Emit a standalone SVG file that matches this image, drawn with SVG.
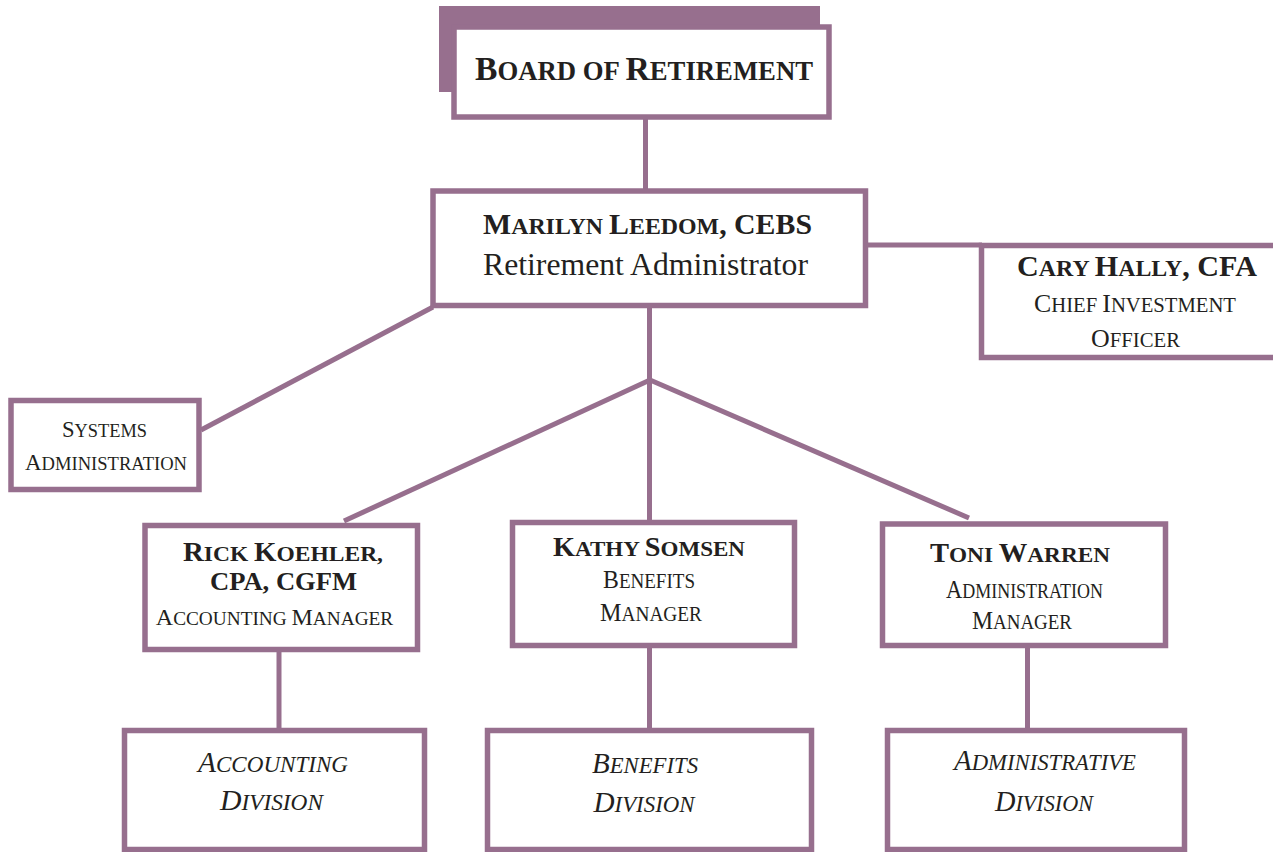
<svg xmlns="http://www.w3.org/2000/svg" width="1273" height="852" viewBox="0 0 1273 852">
<style>
.box{fill:#fff;stroke:#976f8e;stroke-width:5.5}
.ln{stroke:#976f8e;stroke-width:5;fill:none}
text{font-family:"Liberation Serif","Times New Roman",serif;fill:#231f20;text-anchor:middle}
.b{font-weight:bold}
.i{font-style:italic}
</style>
<rect width="1273" height="852" fill="#fff"/>
<g id="connectors">
<line class="ln" x1="645.5" y1="117" x2="645.5" y2="191"/>
<line class="ln" x1="865" y1="245" x2="982" y2="245"/>
<line class="ln" x1="433" y1="307" x2="201" y2="430"/>
<line class="ln" x1="649.5" y1="305" x2="649.5" y2="522"/>
<line class="ln" x1="650" y1="380" x2="344" y2="521"/>
<line class="ln" x1="650" y1="380" x2="969" y2="518"/>
<line class="ln" x1="279" y1="649" x2="279" y2="731"/>
<line class="ln" x1="649.5" y1="645" x2="649.5" y2="731"/>
<line class="ln" x1="1027.5" y1="645" x2="1027.5" y2="731"/>
</g>
<g id="board">
<rect x="439" y="6" width="381" height="86" fill="#976f8e"/>
<rect class="box" x="454" y="27" width="375" height="90"/>
<text class="b" x="644" y="80" textLength="338" lengthAdjust="spacingAndGlyphs" font-size="27"><tspan font-size="34">B</tspan>OARD OF <tspan font-size="34">R</tspan>ETIREMENT</text>
</g>
<g id="marilyn">
<rect class="box" x="433" y="191" width="432.5" height="114.5"/>
<text class="b" x="647.5" y="234" textLength="329" lengthAdjust="spacingAndGlyphs" font-size="24"><tspan font-size="30">M</tspan>ARILYN <tspan font-size="30">L</tspan>EEDOM<tspan font-size="30">, CEBS</tspan></text>
<text x="645.5" y="275" font-size="32" textLength="325" lengthAdjust="spacingAndGlyphs">Retirement Administrator</text>
</g>
<g id="cary">
<rect class="box" x="981.5" y="245.5" width="310" height="112"/>
<text class="b" x="1137" y="276" textLength="240" lengthAdjust="spacingAndGlyphs" font-size="23"><tspan font-size="29">C</tspan>ARY <tspan font-size="29">H</tspan>ALLY<tspan font-size="29">, CFA</tspan></text>
<text x="1135" y="312" textLength="202" lengthAdjust="spacingAndGlyphs" font-size="20"><tspan font-size="25">C</tspan>HIEF <tspan font-size="25">I</tspan>NVESTMENT</text>
<text x="1135.5" y="347" textLength="89" lengthAdjust="spacingAndGlyphs" font-size="20"><tspan font-size="25">O</tspan>FFICER</text>
</g>
<g id="systems">
<rect class="box" x="11" y="400.5" width="188" height="89"/>
<text x="104.5" y="437" textLength="85" lengthAdjust="spacingAndGlyphs" font-size="19.5"><tspan font-size="24">S</tspan>YSTEMS</text>
<text x="106" y="470" textLength="162" lengthAdjust="spacingAndGlyphs" font-size="19.5"><tspan font-size="24">A</tspan>DMINISTRATION</text>
</g>
<g id="rick">
<rect class="box" x="145" y="525.5" width="272.5" height="124"/>
<text class="b" x="283" y="561" textLength="200" lengthAdjust="spacingAndGlyphs" font-size="22"><tspan font-size="27">R</tspan>ICK <tspan font-size="27">K</tspan>OEHLER,</text>
<text class="b" x="283.5" y="590" textLength="147" lengthAdjust="spacingAndGlyphs" font-size="26">CPA, CGFM</text>
<text x="274.5" y="625" font-size="19.3"><tspan font-size="24">A</tspan>CCOUNTING <tspan font-size="24">M</tspan>ANAGER</text>
</g>
<g id="kathy">
<rect class="box" x="512.5" y="522.5" width="282" height="123"/>
<text class="b" x="649" y="556" textLength="192" lengthAdjust="spacingAndGlyphs" font-size="22"><tspan font-size="27">K</tspan>ATHY <tspan font-size="27">S</tspan>OMSEN</text>
<text x="649" y="588" textLength="92" lengthAdjust="spacingAndGlyphs" font-size="20"><tspan font-size="25">B</tspan>ENEFITS</text>
<text x="651" y="621" textLength="102" lengthAdjust="spacingAndGlyphs" font-size="20"><tspan font-size="25">M</tspan>ANAGER</text>
</g>
<g id="toni">
<rect class="box" x="882.5" y="524" width="283" height="121.5"/>
<text class="b" x="1020" y="562" textLength="180" lengthAdjust="spacingAndGlyphs" font-size="22"><tspan font-size="27">T</tspan>ONI <tspan font-size="27">W</tspan>ARREN</text>
<text x="1024.5" y="598" textLength="157" lengthAdjust="spacingAndGlyphs" font-size="20"><tspan font-size="25">A</tspan>DMINISTRATION</text>
<text x="1022" y="629" textLength="100" lengthAdjust="spacingAndGlyphs" font-size="20"><tspan font-size="25">M</tspan>ANAGER</text>
</g>
<g id="accounting-division">
<rect class="box" x="124.5" y="730.5" width="300" height="119"/>
<text class="i" x="273" y="772" textLength="150" lengthAdjust="spacingAndGlyphs" font-size="23.5"><tspan font-size="30">A</tspan>CCOUNTING</text>
<text class="i" x="271.5" y="810" textLength="103" lengthAdjust="spacingAndGlyphs" font-size="23.5"><tspan font-size="30">D</tspan>IVISION</text>
</g>
<g id="benefits-division">
<rect class="box" x="487.5" y="730.5" width="324" height="119"/>
<text class="i" x="645" y="773" textLength="106" lengthAdjust="spacingAndGlyphs" font-size="23.5"><tspan font-size="30">B</tspan>ENEFITS</text>
<text class="i" x="644" y="812" textLength="101" lengthAdjust="spacingAndGlyphs" font-size="23.5"><tspan font-size="30">D</tspan>IVISION</text>
</g>
<g id="administrative-division">
<rect class="box" x="887.5" y="730.5" width="297" height="119"/>
<text class="i" x="1045" y="770" textLength="182" lengthAdjust="spacingAndGlyphs" font-size="23.5"><tspan font-size="30">A</tspan>DMINISTRATIVE</text>
<text class="i" x="1044" y="811" textLength="98" lengthAdjust="spacingAndGlyphs" font-size="23.5"><tspan font-size="30">D</tspan>IVISION</text>
</g>
</svg>
